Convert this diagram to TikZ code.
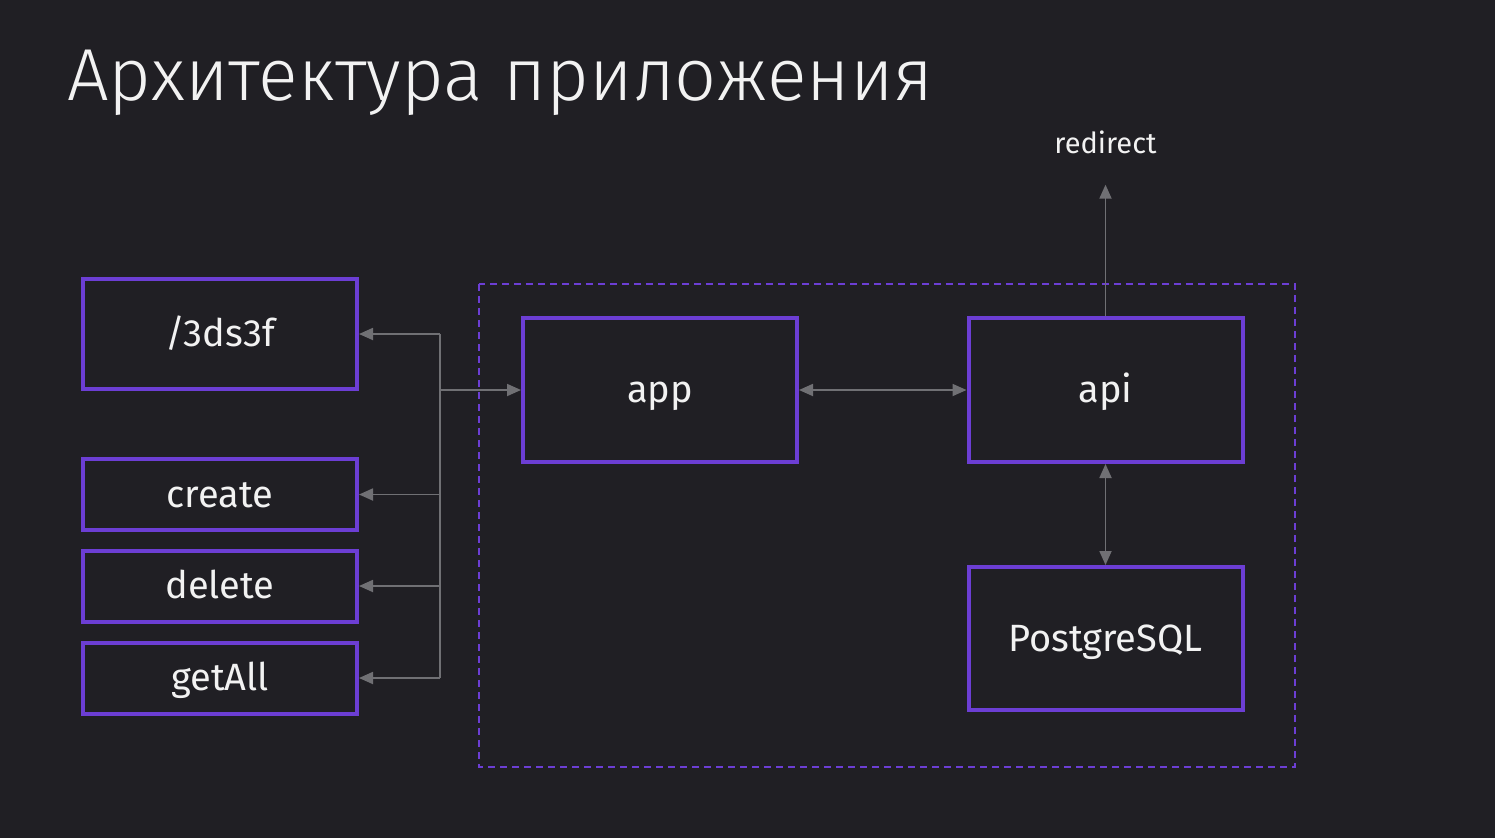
\documentclass[tikz,border=0pt]{standalone}
\usepackage{fontspec}
\setmainfont{Fira Sans}
\newfontfamily\titlefont{Fira Sans}[UprightFont=* Light]
\usetikzlibrary{arrows.meta}
\usetikzlibrary{positioning}
\definecolor{slidebg}{RGB}{32,31,36}
\definecolor{boxline}{RGB}{108,62,212}
\definecolor{wire}{RGB}{112,112,116}
\definecolor{label}{RGB}{242,242,242}
\tikzstyle{box}=[draw=boxline,line width=4pt,text=label,minimum width=274pt,font=\fontsize{38}{42}\selectfont,inner sep=0pt,text height=29pt,text depth=4pt]
\tikzstyle{edge} = [draw,wire,line width=1.8pt,-{Triangle[length=14pt,width=12pt]}]
\tikzstyle{twoway} = [draw,wire,line width=1.8pt,{Triangle[length=14pt,width=12pt]}-{Triangle[length=14pt,width=12pt]}]
\tikzstyle{group} = [draw=boxline,line width=1.6pt,dash pattern=on 7pt off 5pt]

\begin{document}
\begin{tikzpicture}[x=1pt,y=-1pt]
    \fill[slidebg] (0,0) rectangle (1495,838);
    \useasboundingbox (0,0) rectangle (1495,838);

    \node[anchor=base west,text=label,inner sep=0pt,font=\titlefont\fontsize{73.7}{85}\selectfont] (title) at (67,100) {Архитектура приложения};

    % dashed frame around app, api and db
    \path[group] (479,284) rectangle (1295,767);

    \node[box,minimum height=110pt] (hash) at (220,334) {/3ds3f};
    \foreach \pos/\name/\txt in {{(220,494.5)/create/create}, {(220,586)/delete/delete}, {(220,678)/getall/getAll}}
        \node[box,minimum height=71pt] (\name) at \pos {\txt};

    \node[box,minimum height=144pt] (app) at (660,390) {app};
    \node[box,minimum height=144pt] (api) at (1105.5,390) {api};
    \node[box,minimum height=143pt] (pg) at (1105.5,638.5) {PostgreSQL};
    \node[text=label,inner sep=0pt,font=\fontsize{29}{32}\selectfont] (redirect) at (1105.5,142) {redirect};

    \coordinate (busapp) at (440,390);
    \foreach \name in {hash,create,delete,getall}
        \coordinate (bus\name) at (440,0 |- \name);

    \path[draw,wire,line width=1.8pt] (bushash) -- (busgetall);
    \foreach \name in {hash,create,delete,getall}
        \path[edge] (bus\name) -- (\name);
    \path[edge] (busapp) -- (app);

    \path[twoway] (app) -- (api);
    \path[twoway] (api) -- (pg);
    \path[edge] (api) -- ([yshift=-31pt]redirect.south);

\end{tikzpicture}
\end{document}
